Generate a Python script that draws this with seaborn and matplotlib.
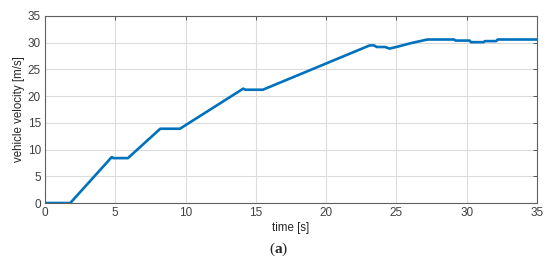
import matplotlib
matplotlib.use("Agg")
import matplotlib.pyplot as plt
import seaborn as sns
import pandas as pd

# breakpoints of the velocity trace
time_s = [0.0, 1.8, 4.75, 4.85, 5.9, 8.2, 9.6, 14.1, 14.25, 15.5,
          23.1, 23.4, 23.6, 24.2, 24.5, 25.0, 26.0, 27.2, 29.1, 29.2,
          30.2, 30.3, 31.2, 31.3, 32.1, 32.2, 35.0]
velocity = [0.0, 0.0, 8.6, 8.4, 8.4, 13.9, 13.9, 21.4, 21.2, 21.2,
            29.5, 29.5, 29.2, 29.2, 28.9, 29.2, 29.9, 30.6, 30.6, 30.4,
            30.4, 30.1, 30.1, 30.3, 30.3, 30.6, 30.6]

x_ticks = [0, 5, 10, 15, 20, 25, 30, 35]
y_ticks = [0, 5, 10, 15, 20, 25, 30, 35]

df = pd.DataFrame({"time": time_s, "velocity": velocity})

sns.set_style("white")
plt.rcParams["font.family"] = ["Liberation Sans", "DejaVu Sans"]
plt.rcParams["mathtext.fontset"] = "custom"
plt.rcParams["mathtext.rm"] = "Liberation Serif"
plt.rcParams["mathtext.bf"] = "Liberation Serif:bold"

fig = plt.figure(figsize=(5.5, 2.62), dpi=100)
ax = fig.add_axes([45 / 550, 1 - 203 / 262, (537 - 45) / 550, (203 - 16) / 262])

sns.lineplot(data=df, x="time", y="velocity", ax=ax, color="#0072BD",
             linewidth=1.9, estimator=None, sort=False)

ax.set_xlim(0, 35)
ax.set_ylim(0, 35)
ax.set_xticks(x_ticks)
ax.set_yticks(y_ticks)
ax.grid(True, color="#dcdcdc", linewidth=0.8)
ax.set_axisbelow(True)
for s in ax.spines.values():
    s.set_color("#606060")
    s.set_linewidth(0.8)
ax.tick_params(direction="in", length=3, width=0.6, colors="#404040",
               labelsize=8.5, top=True, right=True, pad=3)
ax.set_xlabel("time [s]", fontsize=8.3, color="#262626", labelpad=2)
ax.set_ylabel("vehicle velocity [m/s]", fontsize=8.3, color="#262626", labelpad=2)

fig.text(0.507, 1 - 249 / 262, r"($\mathbf{a}$)", ha="center", va="center",
         fontsize=11, family="Liberation Serif")

fig.savefig("out.png", dpi=100)
